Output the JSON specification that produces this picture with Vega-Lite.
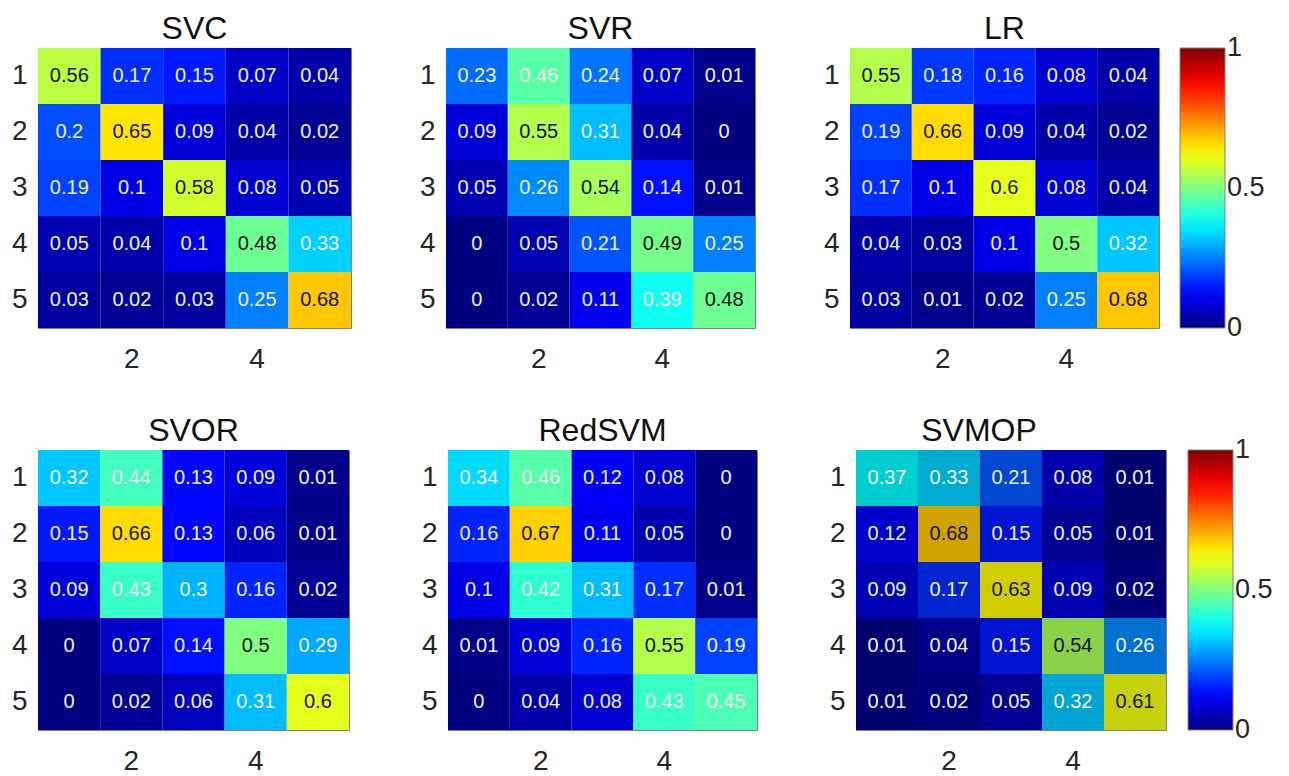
{
  "$schema": "https://vega.github.io/schema/vega-lite/v6.json",
  "background": "white",
  "padding": {"left": 10, "top": 12, "right": 0, "bottom": 0},
  "data": {"values": [
    {"m":"SVC","t":1,"p":1,"v":0.56},{"m":"SVC","t":1,"p":2,"v":0.17},{"m":"SVC","t":1,"p":3,"v":0.15},{"m":"SVC","t":1,"p":4,"v":0.07},{"m":"SVC","t":1,"p":5,"v":0.04},
    {"m":"SVC","t":2,"p":1,"v":0.2},{"m":"SVC","t":2,"p":2,"v":0.65},{"m":"SVC","t":2,"p":3,"v":0.09},{"m":"SVC","t":2,"p":4,"v":0.04},{"m":"SVC","t":2,"p":5,"v":0.02},
    {"m":"SVC","t":3,"p":1,"v":0.19},{"m":"SVC","t":3,"p":2,"v":0.1},{"m":"SVC","t":3,"p":3,"v":0.58},{"m":"SVC","t":3,"p":4,"v":0.08},{"m":"SVC","t":3,"p":5,"v":0.05},
    {"m":"SVC","t":4,"p":1,"v":0.05},{"m":"SVC","t":4,"p":2,"v":0.04},{"m":"SVC","t":4,"p":3,"v":0.1},{"m":"SVC","t":4,"p":4,"v":0.48},{"m":"SVC","t":4,"p":5,"v":0.33},
    {"m":"SVC","t":5,"p":1,"v":0.03},{"m":"SVC","t":5,"p":2,"v":0.02},{"m":"SVC","t":5,"p":3,"v":0.03},{"m":"SVC","t":5,"p":4,"v":0.25},{"m":"SVC","t":5,"p":5,"v":0.68},
    {"m":"SVR","t":1,"p":1,"v":0.23},{"m":"SVR","t":1,"p":2,"v":0.46},{"m":"SVR","t":1,"p":3,"v":0.24},{"m":"SVR","t":1,"p":4,"v":0.07},{"m":"SVR","t":1,"p":5,"v":0.01},
    {"m":"SVR","t":2,"p":1,"v":0.09},{"m":"SVR","t":2,"p":2,"v":0.55},{"m":"SVR","t":2,"p":3,"v":0.31},{"m":"SVR","t":2,"p":4,"v":0.04},{"m":"SVR","t":2,"p":5,"v":0},
    {"m":"SVR","t":3,"p":1,"v":0.05},{"m":"SVR","t":3,"p":2,"v":0.26},{"m":"SVR","t":3,"p":3,"v":0.54},{"m":"SVR","t":3,"p":4,"v":0.14},{"m":"SVR","t":3,"p":5,"v":0.01},
    {"m":"SVR","t":4,"p":1,"v":0},{"m":"SVR","t":4,"p":2,"v":0.05},{"m":"SVR","t":4,"p":3,"v":0.21},{"m":"SVR","t":4,"p":4,"v":0.49},{"m":"SVR","t":4,"p":5,"v":0.25},
    {"m":"SVR","t":5,"p":1,"v":0},{"m":"SVR","t":5,"p":2,"v":0.02},{"m":"SVR","t":5,"p":3,"v":0.11},{"m":"SVR","t":5,"p":4,"v":0.39},{"m":"SVR","t":5,"p":5,"v":0.48},
    {"m":"LR","t":1,"p":1,"v":0.55},{"m":"LR","t":1,"p":2,"v":0.18},{"m":"LR","t":1,"p":3,"v":0.16},{"m":"LR","t":1,"p":4,"v":0.08},{"m":"LR","t":1,"p":5,"v":0.04},
    {"m":"LR","t":2,"p":1,"v":0.19},{"m":"LR","t":2,"p":2,"v":0.66},{"m":"LR","t":2,"p":3,"v":0.09},{"m":"LR","t":2,"p":4,"v":0.04},{"m":"LR","t":2,"p":5,"v":0.02},
    {"m":"LR","t":3,"p":1,"v":0.17},{"m":"LR","t":3,"p":2,"v":0.1},{"m":"LR","t":3,"p":3,"v":0.6},{"m":"LR","t":3,"p":4,"v":0.08},{"m":"LR","t":3,"p":5,"v":0.04},
    {"m":"LR","t":4,"p":1,"v":0.04},{"m":"LR","t":4,"p":2,"v":0.03},{"m":"LR","t":4,"p":3,"v":0.1},{"m":"LR","t":4,"p":4,"v":0.5},{"m":"LR","t":4,"p":5,"v":0.32},
    {"m":"LR","t":5,"p":1,"v":0.03},{"m":"LR","t":5,"p":2,"v":0.01},{"m":"LR","t":5,"p":3,"v":0.02},{"m":"LR","t":5,"p":4,"v":0.25},{"m":"LR","t":5,"p":5,"v":0.68},
    {"m":"SVOR","t":1,"p":1,"v":0.32},{"m":"SVOR","t":1,"p":2,"v":0.44},{"m":"SVOR","t":1,"p":3,"v":0.13},{"m":"SVOR","t":1,"p":4,"v":0.09},{"m":"SVOR","t":1,"p":5,"v":0.01},
    {"m":"SVOR","t":2,"p":1,"v":0.15},{"m":"SVOR","t":2,"p":2,"v":0.66},{"m":"SVOR","t":2,"p":3,"v":0.13},{"m":"SVOR","t":2,"p":4,"v":0.06},{"m":"SVOR","t":2,"p":5,"v":0.01},
    {"m":"SVOR","t":3,"p":1,"v":0.09},{"m":"SVOR","t":3,"p":2,"v":0.43},{"m":"SVOR","t":3,"p":3,"v":0.3},{"m":"SVOR","t":3,"p":4,"v":0.16},{"m":"SVOR","t":3,"p":5,"v":0.02},
    {"m":"SVOR","t":4,"p":1,"v":0},{"m":"SVOR","t":4,"p":2,"v":0.07},{"m":"SVOR","t":4,"p":3,"v":0.14},{"m":"SVOR","t":4,"p":4,"v":0.5},{"m":"SVOR","t":4,"p":5,"v":0.29},
    {"m":"SVOR","t":5,"p":1,"v":0},{"m":"SVOR","t":5,"p":2,"v":0.02},{"m":"SVOR","t":5,"p":3,"v":0.06},{"m":"SVOR","t":5,"p":4,"v":0.31},{"m":"SVOR","t":5,"p":5,"v":0.6},
    {"m":"RedSVM","t":1,"p":1,"v":0.34},{"m":"RedSVM","t":1,"p":2,"v":0.46},{"m":"RedSVM","t":1,"p":3,"v":0.12},{"m":"RedSVM","t":1,"p":4,"v":0.08},{"m":"RedSVM","t":1,"p":5,"v":0},
    {"m":"RedSVM","t":2,"p":1,"v":0.16},{"m":"RedSVM","t":2,"p":2,"v":0.67},{"m":"RedSVM","t":2,"p":3,"v":0.11},{"m":"RedSVM","t":2,"p":4,"v":0.05},{"m":"RedSVM","t":2,"p":5,"v":0},
    {"m":"RedSVM","t":3,"p":1,"v":0.1},{"m":"RedSVM","t":3,"p":2,"v":0.42},{"m":"RedSVM","t":3,"p":3,"v":0.31},{"m":"RedSVM","t":3,"p":4,"v":0.17},{"m":"RedSVM","t":3,"p":5,"v":0.01},
    {"m":"RedSVM","t":4,"p":1,"v":0.01},{"m":"RedSVM","t":4,"p":2,"v":0.09},{"m":"RedSVM","t":4,"p":3,"v":0.16},{"m":"RedSVM","t":4,"p":4,"v":0.55},{"m":"RedSVM","t":4,"p":5,"v":0.19},
    {"m":"RedSVM","t":5,"p":1,"v":0},{"m":"RedSVM","t":5,"p":2,"v":0.04},{"m":"RedSVM","t":5,"p":3,"v":0.08},{"m":"RedSVM","t":5,"p":4,"v":0.43},{"m":"RedSVM","t":5,"p":5,"v":0.45},
    {"m":"SVMOP","t":1,"p":1,"v":0.37},{"m":"SVMOP","t":1,"p":2,"v":0.33},{"m":"SVMOP","t":1,"p":3,"v":0.21},{"m":"SVMOP","t":1,"p":4,"v":0.08},{"m":"SVMOP","t":1,"p":5,"v":0.01},
    {"m":"SVMOP","t":2,"p":1,"v":0.12},{"m":"SVMOP","t":2,"p":2,"v":0.68},{"m":"SVMOP","t":2,"p":3,"v":0.15},{"m":"SVMOP","t":2,"p":4,"v":0.05},{"m":"SVMOP","t":2,"p":5,"v":0.01},
    {"m":"SVMOP","t":3,"p":1,"v":0.09},{"m":"SVMOP","t":3,"p":2,"v":0.17},{"m":"SVMOP","t":3,"p":3,"v":0.63},{"m":"SVMOP","t":3,"p":4,"v":0.09},{"m":"SVMOP","t":3,"p":5,"v":0.02},
    {"m":"SVMOP","t":4,"p":1,"v":0.01},{"m":"SVMOP","t":4,"p":2,"v":0.04},{"m":"SVMOP","t":4,"p":3,"v":0.15},{"m":"SVMOP","t":4,"p":4,"v":0.54},{"m":"SVMOP","t":4,"p":5,"v":0.26},
    {"m":"SVMOP","t":5,"p":1,"v":0.01},{"m":"SVMOP","t":5,"p":2,"v":0.02},{"m":"SVMOP","t":5,"p":3,"v":0.05},{"m":"SVMOP","t":5,"p":4,"v":0.32},{"m":"SVMOP","t":5,"p":5,"v":0.61}
  ]},
  "spacing": 40,
  "resolve": {"scale": {"color": "independent"}, "legend": {"color": "independent"}},
  "vconcat": [
    {
      "bounds": "flush",
      "spacing": 95,
      "resolve": {"scale": {"color": "independent"}, "legend": {"color": "independent"}},
      "hconcat": [
        {
          "title": {"text": "SVC"},
          "width": 313, "height": 280,
          "transform": [{"filter": "datum.m === 'SVC'"}],
          "encoding": {
            "x": {"field": "p", "type": "ordinal", "axis": {"values": [2, 4], "labelPadding": 17}, "title": null},
            "y": {"field": "t", "type": "ordinal", "title": null}
          },
          "layer": [
            {"mark": "rect", "encoding": {"color": {"field": "v", "type": "quantitative", "scale": {"domain": [0, 0.125, 0.375, 0.625, 0.875, 1], "range": ["#000080", "#0000ff", "#00ffff", "#ffff00", "#ff0000", "#800000"], "interpolate": "rgb"}, "legend": null}}},
            {"mark": {"type": "text", "fontSize": 20, "font": "Liberation Sans"}, "encoding": {"text": {"field": "v", "type": "quantitative", "format": ".2~f"}, "color": {"condition": {"test": "datum.v >= 0.47", "value": "#111111"}, "value": "#f2f2f2"}}}
          ]
        },
        {
          "title": {"text": "SVR"},
          "width": 309, "height": 280,
          "transform": [{"filter": "datum.m === 'SVR'"}],
          "encoding": {
            "x": {"field": "p", "type": "ordinal", "axis": {"values": [2, 4], "labelPadding": 17}, "title": null},
            "y": {"field": "t", "type": "ordinal", "title": null}
          },
          "layer": [
            {"mark": "rect", "encoding": {"color": {"field": "v", "type": "quantitative", "scale": {"domain": [0, 0.125, 0.375, 0.625, 0.875, 1], "range": ["#000080", "#0000ff", "#00ffff", "#ffff00", "#ff0000", "#800000"], "interpolate": "rgb"}, "legend": null}}},
            {"mark": {"type": "text", "fontSize": 20, "font": "Liberation Sans"}, "encoding": {"text": {"field": "v", "type": "quantitative", "format": ".2~f"}, "color": {"condition": {"test": "datum.v >= 0.47", "value": "#111111"}, "value": "#f2f2f2"}}}
          ]
        },
        {
          "title": {"text": "LR"},
          "width": 309, "height": 280,
          "transform": [{"filter": "datum.m === 'LR'"}],
          "encoding": {
            "x": {"field": "p", "type": "ordinal", "axis": {"values": [2, 4], "labelPadding": 17}, "title": null},
            "y": {"field": "t", "type": "ordinal", "title": null}
          },
          "layer": [
            {"mark": "rect", "encoding": {"color": {"field": "v", "type": "quantitative", "scale": {"domain": [0, 0.125, 0.375, 0.625, 0.875, 1], "range": ["#000080", "#0000ff", "#00ffff", "#ffff00", "#ff0000", "#800000"], "interpolate": "rgb"}, "legend": {"values": [0, 0.5, 1], "offset": 21, "format": "~g", "encode": {"labels": {"update": {"baseline": {"value": "middle"}}}}}}}},
            {"mark": {"type": "text", "fontSize": 20, "font": "Liberation Sans"}, "encoding": {"text": {"field": "v", "type": "quantitative", "format": ".2~f"}, "color": {"condition": {"test": "datum.v >= 0.47", "value": "#111111"}, "value": "#f2f2f2"}}}
          ]
        }
      ]
    },
    {
      "bounds": "flush",
      "spacing": 99,
      "resolve": {"scale": {"color": "independent"}, "legend": {"color": "independent"}},
      "hconcat": [
        {
          "title": {"text": "SVOR"},
          "width": 311, "height": 280,
          "transform": [{"filter": "datum.m === 'SVOR'"}],
          "encoding": {
            "x": {"field": "p", "type": "ordinal", "axis": {"values": [2, 4], "labelPadding": 17}, "title": null},
            "y": {"field": "t", "type": "ordinal", "title": null}
          },
          "layer": [
            {"mark": "rect", "encoding": {"color": {"field": "v", "type": "quantitative", "scale": {"domain": [0, 0.125, 0.375, 0.625, 0.875, 1], "range": ["#000080", "#0000ff", "#00ffff", "#ffff00", "#ff0000", "#800000"], "interpolate": "rgb"}, "legend": null}}},
            {"mark": {"type": "text", "fontSize": 20, "font": "Liberation Sans"}, "encoding": {"text": {"field": "v", "type": "quantitative", "format": ".2~f"}, "color": {"condition": {"test": "datum.v >= 0.47", "value": "#111111"}, "value": "#f2f2f2"}}}
          ]
        },
        {
          "title": {"text": "RedSVM"},
          "width": 309, "height": 280,
          "transform": [{"filter": "datum.m === 'RedSVM'"}],
          "encoding": {
            "x": {"field": "p", "type": "ordinal", "axis": {"values": [2, 4], "labelPadding": 17}, "title": null},
            "y": {"field": "t", "type": "ordinal", "title": null}
          },
          "layer": [
            {"mark": "rect", "encoding": {"color": {"field": "v", "type": "quantitative", "scale": {"domain": [0, 0.125, 0.375, 0.625, 0.875, 1], "range": ["#000080", "#0000ff", "#00ffff", "#ffff00", "#ff0000", "#800000"], "interpolate": "rgb"}, "legend": null}}},
            {"mark": {"type": "text", "fontSize": 20, "font": "Liberation Sans"}, "encoding": {"text": {"field": "v", "type": "quantitative", "format": ".2~f"}, "color": {"condition": {"test": "datum.v >= 0.47", "value": "#111111"}, "value": "#f2f2f2"}}}
          ]
        },
        {
          "title": {"text": "SVMOP", "dx": -32},
          "width": 310, "height": 280,
          "transform": [{"filter": "datum.m === 'SVMOP'"}],
          "encoding": {
            "x": {"field": "p", "type": "ordinal", "axis": {"values": [2, 4], "labelPadding": 17}, "title": null},
            "y": {"field": "t", "type": "ordinal", "title": null}
          },
          "layer": [
            {"mark": "rect", "encoding": {"color": {"field": "v", "type": "quantitative", "scale": {"domain": [0, 0.125, 0.375, 0.625, 0.875, 1], "range": ["#000080", "#0000ff", "#00ffff", "#ffff00", "#ff0000", "#800000"], "interpolate": "rgb"}, "legend": {"values": [0, 0.5, 1], "offset": 22, "format": "~g", "encode": {"labels": {"update": {"baseline": {"value": "middle"}}}}}}}},
            {"mark": {"type": "rect", "color": "black", "opacity": 0.18}, "encoding": {}},
            {"mark": {"type": "text", "fontSize": 20, "font": "Liberation Sans"}, "encoding": {"text": {"field": "v", "type": "quantitative", "format": ".2~f"}, "color": {"condition": {"test": "datum.v >= 0.47", "value": "#111111"}, "value": "#f2f2f2"}}}
          ]
        }
      ]
    }
  ],
  "config": {
    "font": "Liberation Sans",
    "view": {"stroke": "#808080", "strokeWidth": 1},
    "title": {"fontSize": 32, "fontWeight": "normal", "font": "Liberation Sans", "color": "#111111", "offset": 2},
    "axis": {"labelFont": "Liberation Sans", "labelFontSize": 28, "labelColor": "#262626", "ticks": false, "domain": false, "grid": false, "labelAngle": 0},
    "axisY": {"labelPadding": 11},
    "legend": {"title": null, "gradientLength": 280, "gradientThickness": 45, "labelFontSize": 27, "labelFont": "Liberation Sans", "labelColor": "#262626", "labelOffset": 11, "gradientStrokeColor": "#808080", "gradientStrokeWidth": 1, "direction": "vertical", "orient": "right", "padding": 0}
  }
}
